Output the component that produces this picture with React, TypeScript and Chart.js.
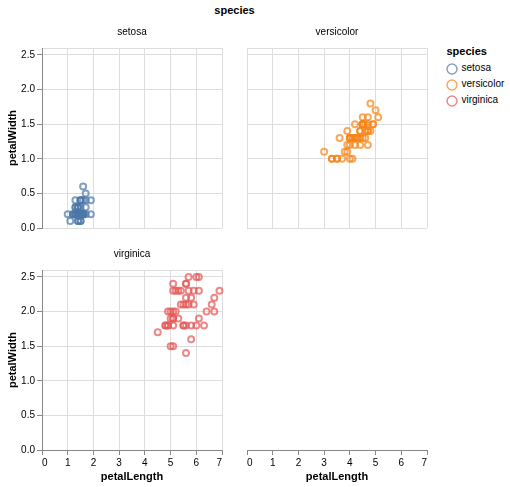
import React, { useEffect, useRef } from 'react';
import { Chart, registerables } from 'chart.js';

Chart.register(...registerables);

const FONT = '"Liberation Sans", Arial, Helvetica, sans-serif';

const species = ['setosa', 'versicolor', 'virginica'];
const speciesColors = ['rgba(76,120,168,0.7)', 'rgba(245,133,24,0.7)', 'rgba(228,87,86,0.7)'];

const setosaPetalLength = [1.4,1.4,1.3,1.5,1.4,1.7,1.4,1.5,1.4,1.5,1.5,1.6,1.4,1.1,1.2,1.5,1.3,1.4,1.7,1.5,1.7,1.5,1.0,1.7,1.9,1.6,1.6,1.5,1.4,1.6,1.6,1.5,1.5,1.4,1.5,1.2,1.3,1.4,1.3,1.5,1.3,1.3,1.3,1.6,1.9,1.4,1.6,1.4,1.5,1.4];
const setosaPetalWidth = [0.2,0.2,0.2,0.2,0.2,0.4,0.3,0.2,0.2,0.1,0.2,0.2,0.1,0.1,0.2,0.4,0.4,0.3,0.3,0.3,0.2,0.4,0.2,0.5,0.2,0.2,0.4,0.2,0.2,0.2,0.2,0.4,0.1,0.2,0.2,0.2,0.2,0.1,0.2,0.2,0.3,0.3,0.2,0.6,0.4,0.3,0.2,0.2,0.2,0.2];

const versicolorPetalLength = [4.7,4.5,4.9,4.0,4.6,4.5,4.7,3.3,4.6,3.9,3.5,4.2,4.0,4.7,3.6,4.4,4.5,4.1,4.5,3.9,4.8,4.0,4.9,4.7,4.3,4.4,4.8,5.0,4.5,3.5,3.8,3.7,3.9,5.1,4.5,4.5,4.7,4.4,4.1,4.0,4.4,4.6,4.0,3.3,4.2,4.2,4.2,4.3,3.0,4.1];
const versicolorPetalWidth = [1.4,1.5,1.5,1.3,1.5,1.3,1.6,1.0,1.3,1.4,1.0,1.5,1.0,1.4,1.3,1.4,1.5,1.0,1.5,1.1,1.8,1.3,1.5,1.2,1.3,1.4,1.4,1.7,1.5,1.0,1.1,1.0,1.2,1.6,1.5,1.6,1.5,1.3,1.3,1.3,1.2,1.4,1.2,1.0,1.3,1.2,1.3,1.3,1.1,1.3];

const virginicaPetalLength = [6.0,5.1,5.9,5.6,5.8,6.6,4.5,6.3,5.8,6.1,5.1,5.3,5.5,5.0,5.1,5.3,5.5,6.7,6.9,5.0,5.7,4.9,6.7,4.9,5.7,6.0,4.8,4.9,5.6,5.8,6.1,6.4,5.6,5.1,5.6,6.1,5.6,5.5,4.8,5.4,5.6,5.1,5.1,5.9,5.7,5.2,5.0,5.2,5.4,5.1];
const virginicaPetalWidth = [2.5,1.9,2.1,1.8,2.2,2.1,1.7,1.8,1.8,2.5,2.0,1.9,2.1,2.0,2.4,2.3,1.8,2.2,2.3,1.5,2.3,2.0,2.0,1.8,2.1,1.8,1.8,1.8,2.1,1.6,1.9,2.0,2.2,1.5,1.4,2.3,2.4,1.8,1.8,2.1,2.4,2.3,1.9,2.3,2.5,2.3,1.9,2.0,2.3,1.8];

const lengthsBySpecies = [setosaPetalLength, versicolorPetalLength, virginicaPetalLength];
const widthsBySpecies = [setosaPetalWidth, versicolorPetalWidth, virginicaPetalWidth];

const xTicks = [0, 1, 2, 3, 4, 5, 6, 7];
const yTicks = [0, 0.5, 1, 1.5, 2, 2.5];
const X_MAX = 7;
const Y_MAX = 2.6;

type Panel = {
  key: string;
  left: number;
  top: number;
  width: number;
  height: number;
  title: string | null;
  titlePad: { top: number; bottom: number };
  speciesIndex: number | null;
  yAxis: boolean;
  xAxis: boolean;
  grid: boolean;
  padding: { left: number; right: number; top: number; bottom: number };
};

const panels: Panel[] = [
  { key: 'p1', left: 0, top: 0, width: 232, height: 240, title: 'setosa', titlePad: { top: 26, bottom: 10 }, speciesIndex: 0, yAxis: true, xAxis: false, grid: true, padding: { left: 0, right: 10, top: 0, bottom: 12 } },
  { key: 'p2', left: 237, top: 0, width: 200, height: 240, title: 'versicolor', titlePad: { top: 26, bottom: 10 }, speciesIndex: 1, yAxis: false, xAxis: false, grid: true, padding: { left: 10, right: 10, top: 0, bottom: 12 } },
  { key: 'p3', left: 0, top: 240, width: 232, height: 247, title: 'virginica', titlePad: { top: 8, bottom: 10 }, speciesIndex: 2, yAxis: true, xAxis: true, grid: true, padding: { left: 0, right: 10, top: 0, bottom: 0 } },
  { key: 'p4', left: 237, top: 240, width: 200, height: 247, title: null, titlePad: { top: 0, bottom: 0 }, speciesIndex: null, yAxis: false, xAxis: true, grid: false, padding: { left: 10, right: 10, top: 30, bottom: 0 } },
];

function buildConfig(p: Panel): any {
  const datasets: any[] = [];
  if (p.speciesIndex !== null) {
    const xs = lengthsBySpecies[p.speciesIndex];
    const ys = widthsBySpecies[p.speciesIndex];
    datasets.push({
      label: species[p.speciesIndex],
      data: xs.map((x, i) => ({ x, y: ys[i] })),
      pointRadius: 3,
      pointBorderWidth: 2,
      pointBackgroundColor: 'rgba(0,0,0,0)',
      pointBorderColor: speciesColors[p.speciesIndex],
      showLine: false,
      clip: false,
    });
  }

  const xScale: any = {
    type: 'linear',
    min: 0,
    max: X_MAX,
    afterBuildTicks: (s: any) => {
      s.ticks = xTicks.map((v) => ({ value: v }));
    },
  };
  if (p.xAxis) {
    Object.assign(xScale, {
      ticks: { display: true, color: '#000', font: { size: 10, family: FONT }, padding: 2.5, align: 'inner', maxRotation: 0, autoSkip: false, callback: (v: any) => String(v) },
      grid: { display: true, drawOnChartArea: p.grid, color: '#ddd', lineWidth: 1, drawTicks: true, tickLength: 5, tickColor: '#888', tickWidth: 1 },
      border: { display: true, color: '#888', width: 1 },
      title: { display: true, text: 'petalLength', color: '#000', font: { size: 11, weight: 'bold', family: FONT }, padding: { top: 0, bottom: 3.4 } },
      afterFit: (s: any) => { s.height = 37; },
    });
  } else {
    Object.assign(xScale, {
      ticks: { display: false },
      grid: { display: true, color: '#ddd', lineWidth: 1, drawTicks: false },
      border: { display: false },
      title: { display: false },
      afterFit: (s: any) => { s.height = 0; },
    });
  }

  const yScale: any = {
    type: 'linear',
    min: 0,
    max: Y_MAX,
    afterBuildTicks: (s: any) => {
      s.ticks = [...yTicks.map((v) => ({ value: v })), { value: Y_MAX }];
    },
  };
  if (!p.grid) {
    yScale.display = false;
  } else if (p.yAxis) {
    Object.assign(yScale, {
      ticks: {
        display: true, color: '#000', font: { size: 10, family: FONT }, padding: 2,
        callback: (v: any) => (yTicks.indexOf(Number(v)) >= 0 ? Number(v).toFixed(1) : ''),
      },
      grid: {
        display: true, color: '#ddd', lineWidth: 1, drawTicks: true, tickLength: 5, tickWidth: 1,
        tickColor: (ctx: any) => (ctx.tick && ctx.tick.value === Y_MAX ? 'rgba(0,0,0,0)' : '#888'),
      },
      border: { display: true, color: '#888', width: 1 },
      title: { display: true, text: 'petalWidth', color: '#000', font: { size: 11, weight: 'bold', family: FONT }, padding: { top: 6, bottom: 0 } },
      afterFit: (s: any) => { s.width = 42; },
    });
  } else {
    Object.assign(yScale, {
      ticks: { display: false },
      grid: { display: true, color: '#ddd', lineWidth: 1, drawTicks: false },
      border: { display: false },
      title: { display: false },
      afterFit: (s: any) => { s.width = 0; },
    });
  }

  return {
    type: 'scatter',
    data: { datasets },
    options: {
      animation: false,
      responsive: false,
      maintainAspectRatio: false,
      devicePixelRatio: 1,
      events: [],
      layout: { padding: p.padding },
      scales: { x: xScale, y: yScale },
      plugins: {
        legend: { display: false },
        tooltip: { enabled: false },
        title: p.title
          ? { display: true, text: p.title, fullSize: false, color: '#000', font: { size: 10, weight: 'normal', family: FONT }, padding: p.titlePad }
          : { display: false },
      },
    },
  };
}

function PanelChart({ panel }: { panel: Panel }) {
  const ref = useRef<HTMLCanvasElement | null>(null);
  useEffect(() => {
    if (!ref.current) return;
    const chart = new Chart(ref.current, buildConfig(panel));
    return () => chart.destroy();
  }, [panel]);
  return (
    <canvas
      ref={ref}
      width={panel.width}
      height={panel.height}
      style={{ position: 'absolute', left: panel.left, top: panel.top, width: panel.width, height: panel.height }}
    />
  );
}

export default function App() {
  return (
    <div style={{ position: 'absolute', left: 0, top: 0, width: 510, height: 487, background: '#fff', fontFamily: FONT, color: '#000' }}>
      <div style={{ position: 'absolute', left: 0, top: 4, width: 469, textAlign: 'center', font: `bold 11px ${FONT}`, lineHeight: '13px' }}>species</div>
      {panels.map((p) => (
        <PanelChart key={p.key} panel={p} />
      ))}
      <div style={{ position: 'absolute', left: 446.5, top: 45, font: `bold 11px ${FONT}`, lineHeight: '13px', whiteSpace: 'nowrap' }}>species</div>
      {species.map((s, i) => (
        <React.Fragment key={s}>
          <svg width={14} height={14} style={{ position: 'absolute', left: 445, top: 61.7 + i * 16 }}>
            <circle cx={7} cy={7} r={5} fill="none" stroke={speciesColors[i]} strokeWidth={1.5} />
          </svg>
          <div style={{ position: 'absolute', left: 461.5, top: 61.8 + i * 16, font: `10px ${FONT}`, lineHeight: '12px', whiteSpace: 'nowrap' }}>{s}</div>
        </React.Fragment>
      ))}
    </div>
  );
}
